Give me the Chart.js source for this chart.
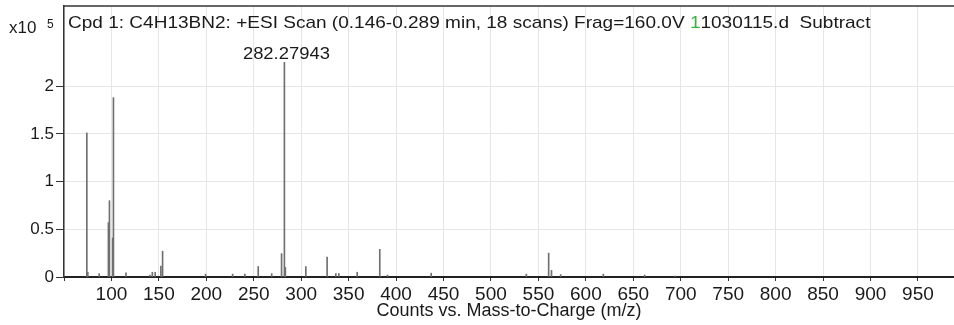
<!DOCTYPE html>
<html>
<head>
<meta charset="utf-8">
<script src="https://cdn.jsdelivr.net/npm/chart.js@4/dist/chart.umd.min.js"></script>
<style>
  html, body { margin: 0; padding: 0; background: #fff; overflow: hidden; }
  #wrap { width: 954px; height: 325px; }
</style>
</head>
<body>
<div id="wrap"><canvas id="spectrum" width="954" height="325"></canvas></div>
<script>
// peak list (m/z, counts x10^5)
const peakMz = [74.06, 75.1, 87.1, 96.8, 97.9, 101.3, 102.1, 115.3, 140.6, 143.1, 146.1,
  152.1, 153.9, 199.2, 227.7, 240.6, 254.7, 268.9, 279.3, 282.27943, 283.3, 304.9,
  327.3, 336.5, 339.7, 359.0, 382.8, 391.0, 437.0, 537.3, 560.8, 563.8, 573.5,
  618.4, 662.0, 694.0];
const peakCounts = [1.51, 0.05, 0.035, 0.57, 0.80, 0.41, 1.88, 0.045, 0.02, 0.05, 0.05,
  0.115, 0.27, 0.03, 0.03, 0.03, 0.11, 0.035, 0.245, 2.25, 0.10, 0.11,
  0.21, 0.035, 0.035, 0.05, 0.29, 0.02, 0.04, 0.03, 0.25, 0.07, 0.025,
  0.03, 0.02, 0.01];

const labelledPeak = 282.27943;
const labelText = "282.27943";
const yTicks = [0, 0.5, 1, 1.5, 2];
const xTickStep = 50;

// header, drawn in pieces because one digit is green in the original
const headerParts = [
  ["Cpd 1: C4H13BN2: +ESI Scan (0.146-0.289 min, 18 scans) Frag=160.0V ", "#1a1a1a"],
  ["1", "#3cb043"],
  ["1030115.d  Subtract", "#1a1a1a"]
];

const FONT = '"Liberation Sans", Arial, sans-serif';

const annotate = {
  id: "annotate",
  afterDraw(chart) {
    const { ctx, chartArea, scales } = chart;
    ctx.save();
    // top frame line
    ctx.strokeStyle = "#333";
    ctx.lineWidth = 1.5;
    ctx.beginPath();
    ctx.moveTo(chartArea.left, chartArea.top);
    ctx.lineTo(chartArea.right, chartArea.top);
    ctx.stroke();

    // header line inside the plot
    ctx.font = "17px " + FONT;
    ctx.textBaseline = "alphabetic";
    ctx.textAlign = "left";
    const full = headerParts.map(p => p[0]).join("");
    const sx = 801 / ctx.measureText(full).width;
    ctx.save();
    ctx.translate(chartArea.left + 4, 28);
    ctx.scale(sx, 1);
    let x = 0;
    for (const [t, c] of headerParts) {
      ctx.fillStyle = c;
      ctx.fillText(t, x, 0);
      x += ctx.measureText(t).width;
    }
    ctx.restore();

    // label of the base peak
    const i = peakMz.indexOf(labelledPeak);
    const px = scales.x.getPixelForValue(peakMz[i]);
    const py = scales.y.getPixelForValue(peakCounts[i]);
    ctx.save();
    ctx.font = "16px " + FONT;
    ctx.fillStyle = "#1a1a1a";
    ctx.textAlign = "center";
    ctx.translate(px + 2, py - 3);
    ctx.scale(1.15, 1);
    ctx.fillText(labelText, 0, 0);
    ctx.restore();

    // exponent of the y axis
    ctx.fillStyle = "#1a1a1a";
    ctx.font = "17px " + FONT;
    ctx.fillText("x10", 9, 33);
    ctx.font = "12px " + FONT;
    ctx.fillText("5", 47, 28);
    ctx.restore();
  }
};

new Chart(document.getElementById("spectrum").getContext("2d"), {
  type: "bar",
  data: {
    datasets: [{
      data: peakMz.map((m, i) => ({ x: m, y: peakCounts[i] })),
      backgroundColor: "#707070",
      borderWidth: 0,
      barThickness: 1,
      grouped: false
    }]
  },
  options: {
    responsive: false,
    animation: false,
    layout: { padding: { top: 6, right: 0, bottom: 0, left: 0 } },
    plugins: { legend: { display: false }, tooltip: { enabled: false } },
    scales: {
      x: {
        type: "linear",
        min: 50,
        max: 988,
        offset: false,
        grid: { offset: false, color: "#e6e6e6", tickLength: 4, tickColor: "#333" },
        border: { color: "#222", width: 2 },
        ticks: {
          stepSize: xTickStep,
          includeBounds: false,
          autoSkip: false,
          maxRotation: 0,
          padding: 2,
          color: "#1a1a1a",
          font: { family: FONT, size: 19 },
          callback: v => (v === 50 ? "" : v)
        },
        title: {
          display: true,
          text: "Counts vs. Mass-to-Charge (m/z)",
          color: "#1a1a1a",
          font: { family: FONT, size: 18 },
          padding: { top: 0, bottom: 3 }
        },
        afterFit: s => {
          s.height = 48;
          s.paddingLeft = 0;
          s.paddingRight = 0;
        }
      },
      y: {
        min: 0,
        max: 2.84,
        grid: { color: "#e6e6e6", tickLength: 8, tickColor: "#333" },
        border: { color: "#333", width: 1.5 },
        afterBuildTicks: s => { s.ticks = yTicks.map(v => ({ value: v })); },
        ticks: {
          padding: 2,
          color: "#1a1a1a",
          font: { family: FONT, size: 17 },
          callback: v => String(v)
        },
        afterFit: s => {
          s.width = 64;
          s.paddingTop = 0;
          s.paddingBottom = 0;
        }
      }
    }
  },
  plugins: [annotate]
});
</script>
</body>
</html>
